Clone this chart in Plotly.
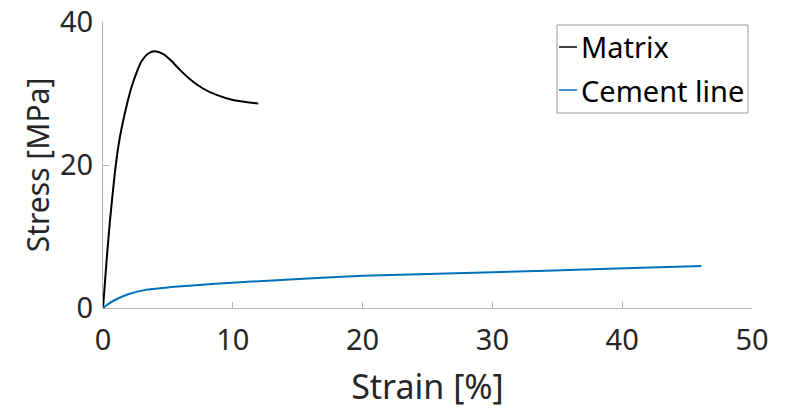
import plotly.graph_objects as go

# Stress-strain curves
matrix_strain = [0, 0.28, 0.54, 0.92, 1.2, 1.44, 1.82, 2.2, 2.6, 2.97, 3.49, 4.0,
                 4.65, 5.3, 5.93, 6.7, 7.7, 8.75, 10.0, 11.96]
matrix_stress = [0, 6.7, 12.3, 19.0, 22.8, 25.2, 28.3, 30.9, 33.0, 34.5, 35.6, 35.9,
                 35.5, 34.5, 33.3, 32.0, 30.7, 29.8, 29.1, 28.6]

cement_strain = [0, 0.4, 0.92, 1.95, 3.2, 5.8, 8.4, 14.4, 20, 30, 38.3, 46.1]
cement_stress = [0, 0.55, 1.12, 1.92, 2.5, 3.0, 3.36, 4.0, 4.5, 5.0, 5.45, 5.87]

x_ticks = [0, 10, 20, 30, 40, 50]
y_ticks = [0, 20, 40]

series_names = ["Matrix", "Cement line"]
series_colors = ["#000000", "#0072BD"]

FONT = "Noto Sans"
AXIS_GRAY = "#b4b4b4"
TEXT = "#262626"

fig = go.Figure()
for name, color, xs, ys in zip(series_names, series_colors,
                               [matrix_strain, cement_strain],
                               [matrix_stress, cement_stress]):
    fig.add_trace(go.Scatter(x=xs, y=ys, mode="lines", name=name, showlegend=False,
                             line=dict(color=color, width=2, shape="spline", smoothing=0.6)))

axis_common = dict(
    showgrid=False, zeroline=False, showline=True, linecolor=AXIS_GRAY, linewidth=1,
    ticks="inside", ticklen=6, tickcolor=AXIS_GRAY, tickwidth=1,
    tickfont=dict(family=FONT, size=29, color=TEXT),
    mirror=False, automargin=False,
)

# Boxed legend with short line samples, placed in the upper right of the axes
legend_box = dict(x0=0.6995, x1=0.9938, y0=0.6818, y1=0.9895)
entry_y = [0.9126, 0.7622]
shapes = [dict(type="rect", xref="paper", yref="paper", line=dict(color="#9a9a9a", width=1),
               fillcolor="white", layer="above", **legend_box)]
annotations = []
for name, color, yy in zip(series_names, series_colors, entry_y):
    shapes.append(dict(type="line", xref="paper", yref="paper", x0=0.7026, x1=0.7304,
                       y0=yy, y1=yy, line=dict(color=color, width=1.5), layer="above"))
    annotations.append(dict(xref="paper", yref="paper", x=0.7335, y=yy, xanchor="left",
                            yanchor="middle", text=name, showarrow=False,
                            font=dict(family=FONT, size=29, color="#000000")))

fig.update_layout(
    width=787, height=409,
    margin=dict(l=103, r=35, t=22, b=101),
    paper_bgcolor="white", plot_bgcolor="white",
    font=dict(family=FONT, color=TEXT),
    xaxis=dict(range=[0, 50], tickvals=x_ticks, ticklabelstandoff=6,
               title=dict(text="Strain [%]", font=dict(family=FONT, size=34, color=TEXT), standoff=22),
               **axis_common),
    yaxis=dict(range=[0, 40], tickvals=y_ticks, ticklabelstandoff=3,
               title=dict(text="Stress [MPa]", font=dict(family=FONT, size=30, color=TEXT), standoff=1),
               **axis_common),
    shapes=shapes,
    annotations=annotations,
    showlegend=False,
)

fig.write_html("out.html")
